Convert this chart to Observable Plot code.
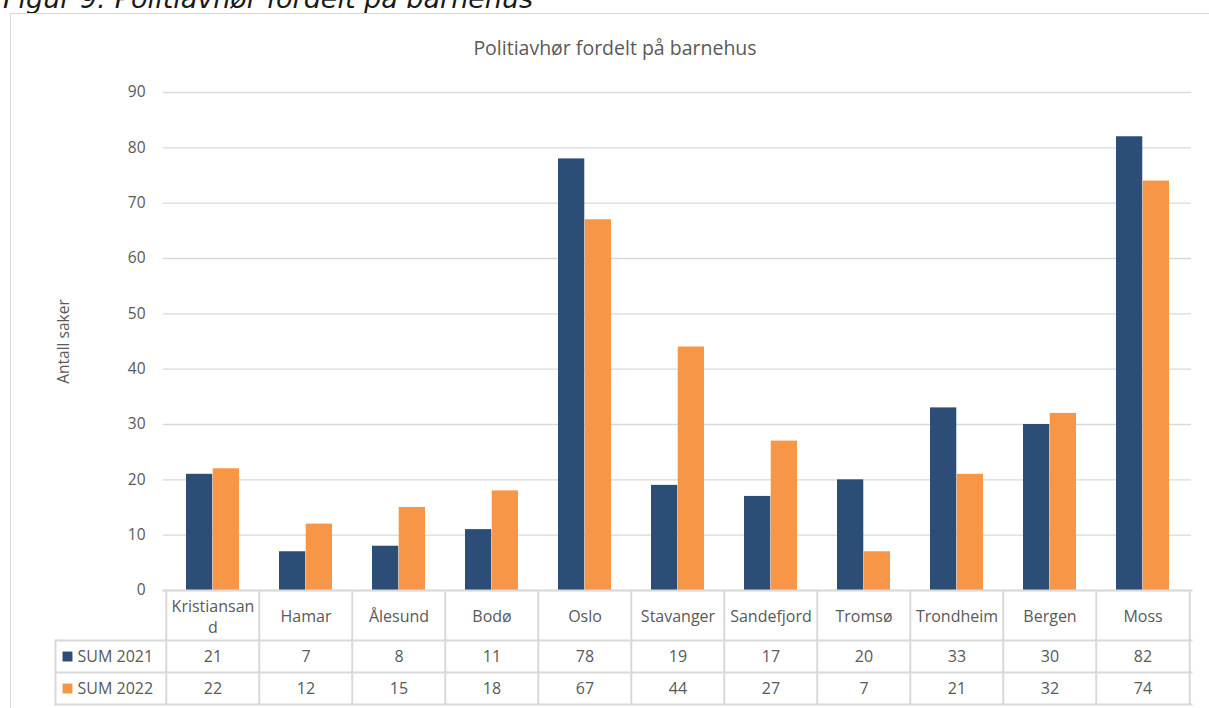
<!DOCTYPE html>
<html>
<head>
<meta charset="utf-8">
<script src="https://cdn.jsdelivr.net/npm/d3@7"></script>
<script src="https://cdn.jsdelivr.net/npm/@observablehq/plot@0.6"></script>
<style>
  html, body { margin: 0; padding: 0; background: #fff; }
  #wrap { position: relative; width: 1209px; height: 708px; overflow: hidden; background: #fff; }
  #caption { position: absolute; left: 3px; top: -15px; line-height: 27px; font-family: "DejaVu Sans"; font-style: italic; font-size: 27px; color: #1a1a1a; white-space: nowrap; }
  #frame { position: absolute; left: 10px; top: 13px; width: 1200px; height: 720px; border: 1px solid #d9d9d9; box-sizing: border-box; }
  #title { position: absolute; left: 315px; width: 600px; top: 34px; line-height: normal; text-align: center; font-family: "Open Sans"; font-size: 19.5px; color: #595959; }
  #chart { position: absolute; left: 0; top: 0; }
  #table { position: absolute; left: 0; top: 590px; }
</style>
</head>
<body>
<div id="wrap">
  <div id="caption">Figur 9: Politiavhør fordelt på barnehus</div>
  <div id="frame"></div>
  <div id="title">Politiavhør fordelt på barnehus</div>
  <div id="chart"></div>
  <div id="table"></div>
</div>
<script>
const categories = ["Kristiansand", "Hamar", "Ålesund", "Bodø", "Oslo", "Stavanger", "Sandefjord", "Tromsø", "Trondheim", "Bergen", "Moss"];
const seriesNames = ["SUM 2021", "SUM 2022"];
const sum2021 = [21, 7, 8, 11, 78, 19, 17, 20, 33, 30, 82];
const sum2022 = [22, 12, 15, 18, 67, 44, 27, 7, 21, 32, 74];
const yTicks = [0, 10, 20, 30, 40, 50, 60, 70, 80, 90];
const headerLabels = {"Kristiansand": "Kristiansan\nd"};

const colors = ["#2c4d76", "#f79646"];
const W = 1209, mL = 163, mR = 18;
const bw = (W - mL - mR) / categories.length;
const font = {fontFamily: "Open Sans", fontSize: "16px", color: "#595959", background: "transparent", overflow: "visible"};

const rows = categories.map((c, i) => ({city: c, v2021: sum2021[i], v2022: sum2022[i]}));

const chart = Plot.plot({
  width: W, height: 592,
  marginTop: 92, marginBottom: 2, marginLeft: mL, marginRight: mR,
  style: font,
  x: {type: "band", domain: categories, padding: 0, axis: null},
  y: {domain: [0, 90]},
  marks: [
    Plot.gridY(yTicks, {stroke: "#d9d9d9", strokeOpacity: 1, strokeWidth: 1.3}),
    Plot.axisY(yTicks, {tickSize: 0, tickPadding: 18, fontSize: 15.5, label: "Antall saker", labelAnchor: "center", labelOffset: 106, labelArrow: "none"}),
    Plot.barY(rows, {x: "city", y: "v2021", fill: colors[0], insetLeft: 20, insetRight: bw / 2}),
    Plot.barY(rows, {x: "city", y: "v2022", fill: colors[1], insetLeft: bw / 2, insetRight: 20})
  ]
});
document.getElementById("chart").appendChild(chart);

const lineStyle = {stroke: "#d9d9d9", strokeWidth: 2};
const txt = {frameAnchor: "top", lineAnchor: "middle", fill: "#595959", fontSize: 16};
const table = Plot.plot({
  width: W, height: 118,
  marginTop: 0, marginBottom: 4, marginLeft: 55, marginRight: mR,
  style: font,
  x: {type: "band", domain: categories, range: [mL, W - mR], padding: 0, axis: null},
  marks: [
    Plot.frame({anchor: "top", insetLeft: mL - 55, ...lineStyle}),
    Plot.frame({anchor: "top", insetTop: 50, ...lineStyle}),
    Plot.frame({anchor: "top", insetTop: 82, ...lineStyle}),
    Plot.frame({anchor: "bottom", ...lineStyle}),
    Plot.frame({anchor: "left", insetTop: 50, ...lineStyle}),
    Plot.ruleX(categories, {x: d => d, dx: -bw / 2, ...lineStyle}),
    Plot.ruleX(categories.slice(-1), {x: d => d, dx: bw / 2, ...lineStyle}),
    Plot.text(categories, {x: d => d, text: d => headerLabels[d] ?? d, dy: 25, lineHeight: 1.3, ...txt}),
    Plot.text(rows, {x: "city", text: "v2021", dy: 66, ...txt}),
    Plot.text(rows, {x: "city", text: "v2022", dy: 98, ...txt}),
    Plot.dot(seriesNames, {frameAnchor: "top-left", dx: 12, dy: 66, symbol: "square", r: 5.6, fill: colors[0], stroke: null, filter: (d, i) => i === 0}),
    Plot.dot(seriesNames, {frameAnchor: "top-left", dx: 12, dy: 98, symbol: "square", r: 5.6, fill: colors[1], stroke: null, filter: (d, i) => i === 1}),
    Plot.text(seriesNames, {...txt, frameAnchor: "top-left", dx: 22, dy: 66, textAnchor: "start", filter: (d, i) => i === 0}),
    Plot.text(seriesNames, {...txt, frameAnchor: "top-left", dx: 22, dy: 98, textAnchor: "start", filter: (d, i) => i === 1})
  ]
});
document.getElementById("table").appendChild(table);
</script>
</body>
</html>
